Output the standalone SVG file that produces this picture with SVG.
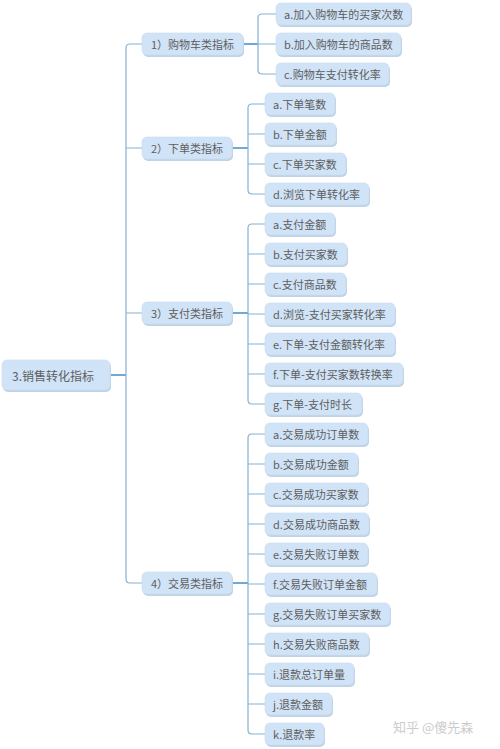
<svg xmlns="http://www.w3.org/2000/svg" width="500" height="749" viewBox="0 0 500 749">
<defs>
<style>
.box{fill:#d0e3f7;stroke:#c9dcf0;stroke-width:0.6}
.sh{fill:#bfd2e6}
.t{font-family:"Noto Sans CJK SC","Liberation Sans",sans-serif;font-size:11px;fill:#5e5e5e;dominant-baseline:central}
.r{font-size:12px}
.ln{fill:none;stroke:#84b1d2;stroke-width:1.2}
.main{fill:none;stroke:#6fa9d6;stroke-width:2}
</style>
</defs>
<rect width="500" height="749" fill="#ffffff"/>
<g id="connectors">
<path class="main" d="M110 375 H126"/>
<path class="ln" d="M142 44 H130 Q126 44 126 48 V579 Q126 583 130 583 H142"/>
<path class="ln" d="M126 148 H142 M126 313 H142"/>
<path class="main" d="M243 44 H258"/>
<path class="ln" d="M276 14 H262 Q258 14 258 18 V70 Q258 74 262 74 H276 M258 44 H276"/>
<path class="main" d="M232 148 H248"/>
<path class="ln" d="M265 104 H252 Q248 104 248 108 V190 Q248 194 252 194 H265 M248 134 H265 M248 164 H265"/>
<path class="main" d="M232 313 H248"/>
<path class="ln" d="M265 224 H252 Q248 224 248 228 V400 Q248 404 252 404 H265 M248 254 H265 M248 284 H265 M248 314 H265 M248 344 H265 M248 374 H265"/>
<path class="main" d="M232 583 H248"/>
<path class="ln" d="M265 434 H252 Q248 434 248 438 V730 Q248 734 252 734 H265 M248 464 H265 M248 494 H265 M248 524 H265 M248 554 H265 M248 584 H265 M248 614 H265 M248 644 H265 M248 674 H265 M248 704 H265"/>
</g>
<g id="root"><rect class="sh" x="3" y="362" width="108" height="30" rx="5"/><rect class="box" x="2" y="360" width="108" height="30" rx="5"/><text class="t r" x="12" y="375">3.销售转化指标</text></g>
<g id="n1"><rect class="sh" x="143" y="35" width="101" height="22" rx="5"/><rect class="box" x="142" y="33" width="101" height="22" rx="5"/><text class="t" x="151" y="44">1）购物车类指标</text></g>
<g id="n2"><rect class="sh" x="143" y="139" width="90" height="22" rx="5"/><rect class="box" x="142" y="137" width="90" height="22" rx="5"/><text class="t" x="151" y="148">2）下单类指标</text></g>
<g id="n3"><rect class="sh" x="143" y="304" width="90" height="22" rx="5"/><rect class="box" x="142" y="302" width="90" height="22" rx="5"/><text class="t" x="151" y="313">3）支付类指标</text></g>
<g id="n4"><rect class="sh" x="143" y="574" width="90" height="22" rx="5"/><rect class="box" x="142" y="572" width="90" height="22" rx="5"/><text class="t" x="151" y="583">4）交易类指标</text></g>
<g id="n1a"><rect class="sh" x="277" y="5" width="135" height="22" rx="5"/><rect class="box" x="276" y="3" width="135" height="22" rx="5"/><text class="t" x="284" y="14">a.加入购物车的买家次数</text></g>
<g id="n1b"><rect class="sh" x="277" y="35" width="125" height="22" rx="5"/><rect class="box" x="276" y="33" width="125" height="22" rx="5"/><text class="t" x="284" y="44">b.加入购物车的商品数</text></g>
<g id="n1c"><rect class="sh" x="277" y="65" width="113" height="22" rx="5"/><rect class="box" x="276" y="63" width="113" height="22" rx="5"/><text class="t" x="284" y="74">c.购物车支付转化率</text></g>
<g id="n2a"><rect class="sh" x="266" y="95" width="70" height="22" rx="5"/><rect class="box" x="265" y="93" width="70" height="22" rx="5"/><text class="t" x="273" y="104">a.下单笔数</text></g>
<g id="n2b"><rect class="sh" x="266" y="125" width="71" height="22" rx="5"/><rect class="box" x="265" y="123" width="71" height="22" rx="5"/><text class="t" x="273" y="134">b.下单金额</text></g>
<g id="n2c"><rect class="sh" x="266" y="155" width="81" height="22" rx="5"/><rect class="box" x="265" y="153" width="81" height="22" rx="5"/><text class="t" x="273" y="164">c.下单买家数</text></g>
<g id="n2d"><rect class="sh" x="266" y="185" width="104" height="22" rx="5"/><rect class="box" x="265" y="183" width="104" height="22" rx="5"/><text class="t" x="273" y="194">d.浏览下单转化率</text></g>
<g id="n3a"><rect class="sh" x="266" y="215" width="70" height="22" rx="5"/><rect class="box" x="265" y="213" width="70" height="22" rx="5"/><text class="t" x="273" y="224">a.支付金额</text></g>
<g id="n3b"><rect class="sh" x="266" y="245" width="82" height="22" rx="5"/><rect class="box" x="265" y="243" width="82" height="22" rx="5"/><text class="t" x="273" y="254">b.支付买家数</text></g>
<g id="n3c"><rect class="sh" x="266" y="275" width="81" height="22" rx="5"/><rect class="box" x="265" y="273" width="81" height="22" rx="5"/><text class="t" x="273" y="284">c.支付商品数</text></g>
<g id="n3d"><rect class="sh" x="266" y="305" width="130" height="22" rx="5"/><rect class="box" x="265" y="303" width="130" height="22" rx="5"/><text class="t" x="273" y="314">d.浏览-支付买家转化率</text></g>
<g id="n3e"><rect class="sh" x="266" y="335" width="130" height="22" rx="5"/><rect class="box" x="265" y="333" width="130" height="22" rx="5"/><text class="t" x="273" y="344">e.下单-支付金额转化率</text></g>
<g id="n3f"><rect class="sh" x="266" y="365" width="138" height="22" rx="5"/><rect class="box" x="265" y="363" width="138" height="22" rx="5"/><text class="t" x="273" y="374">f.下单-支付买家数转换率</text></g>
<g id="n3g"><rect class="sh" x="266" y="395" width="97" height="22" rx="5"/><rect class="box" x="265" y="393" width="97" height="22" rx="5"/><text class="t" x="273" y="404">g.下单-支付时长</text></g>
<g id="n4a"><rect class="sh" x="266" y="425" width="103" height="22" rx="5"/><rect class="box" x="265" y="423" width="103" height="22" rx="5"/><text class="t" x="273" y="434">a.交易成功订单数</text></g>
<g id="n4b"><rect class="sh" x="266" y="455" width="93" height="22" rx="5"/><rect class="box" x="265" y="453" width="93" height="22" rx="5"/><text class="t" x="273" y="464">b.交易成功金额</text></g>
<g id="n4c"><rect class="sh" x="266" y="485" width="103" height="22" rx="5"/><rect class="box" x="265" y="483" width="103" height="22" rx="5"/><text class="t" x="273" y="494">c.交易成功买家数</text></g>
<g id="n4d"><rect class="sh" x="266" y="515" width="104" height="22" rx="5"/><rect class="box" x="265" y="513" width="104" height="22" rx="5"/><text class="t" x="273" y="524">d.交易成功商品数</text></g>
<g id="n4e"><rect class="sh" x="266" y="545" width="103" height="22" rx="5"/><rect class="box" x="265" y="543" width="103" height="22" rx="5"/><text class="t" x="273" y="554">e.交易失败订单数</text></g>
<g id="n4f"><rect class="sh" x="266" y="575" width="112" height="22" rx="5"/><rect class="box" x="265" y="573" width="112" height="22" rx="5"/><text class="t" x="273" y="584">f.交易失败订单金额</text></g>
<g id="n4g"><rect class="sh" x="266" y="605" width="125" height="22" rx="5"/><rect class="box" x="265" y="603" width="125" height="22" rx="5"/><text class="t" x="273" y="614">g.交易失败订单买家数</text></g>
<g id="n4h"><rect class="sh" x="266" y="635" width="104" height="22" rx="5"/><rect class="box" x="265" y="633" width="104" height="22" rx="5"/><text class="t" x="273" y="644">h.交易失败商品数</text></g>
<g id="n4i"><rect class="sh" x="266" y="665" width="89" height="22" rx="5"/><rect class="box" x="265" y="663" width="89" height="22" rx="5"/><text class="t" x="273" y="674">i.退款总订单量</text></g>
<g id="n4j"><rect class="sh" x="266" y="695" width="67" height="22" rx="5"/><rect class="box" x="265" y="693" width="67" height="22" rx="5"/><text class="t" x="273" y="704">j.退款金额</text></g>
<g id="n4k"><rect class="sh" x="266" y="725" width="59" height="22" rx="5"/><rect class="box" x="265" y="723" width="59" height="22" rx="5"/><text class="t" x="273" y="734">k.退款率</text></g>
<text x="393" y="726" font-family="Noto Sans CJK SC, sans-serif" font-size="13" fill="#cccccc" dominant-baseline="central">知乎 @傻先森</text>
</svg>
